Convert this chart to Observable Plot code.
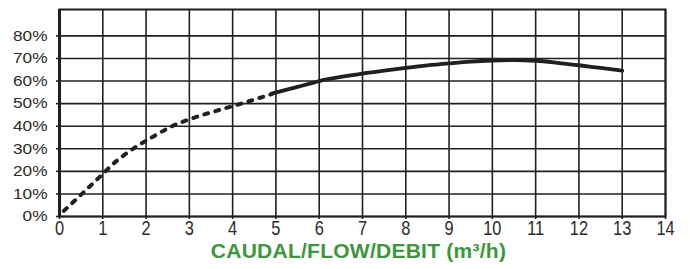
<!DOCTYPE html>
<html>
<head>
<meta charset="utf-8">
<script src="https://cdn.jsdelivr.net/npm/d3@7"></script>
<script src="https://cdn.jsdelivr.net/npm/@observablehq/plot@0.6"></script>
<style>
  body { margin: 0; background: #fff; }
  #chart svg { display: block; }
</style>
</head>
<body>
<div id="chart"></div>
<script>
// Tick values
const xTicks = [0, 1, 2, 3, 4, 5, 6, 7, 8, 9, 10, 11, 12, 13, 14];
const yTicks = [0, 10, 20, 30, 40, 50, 60, 70, 80];

// Efficiency curve, dotted (low-flow) part
const dottedFlow = [0.1, 0.5, 0.9, 1.3, 1.7, 2.2, 2.6, 3.1, 3.6, 4.2, 4.7, 4.9];
const dottedEff  = [2.5, 9.7, 17, 24.3, 30, 35.8, 40, 43.7, 46.7, 50, 53, 54.2];

// Efficiency curve, solid (working range) part
const solidFlow = [4.9, 5.5, 6, 6.5, 7, 7.5, 8, 8.5, 9, 9.5, 10, 10.5, 11, 11.5, 12, 12.5, 13];
const solidEff  = [54.4, 57.4, 60, 61.8, 63.3, 64.6, 65.8, 66.9, 67.8, 68.6, 69.1, 69.3, 69, 68.1, 67, 65.8, 64.6];

const axisTitle = "CAUDAL/FLOW/DEBIT (m³/h)";

const ink = "#231f20";
const green = "#3d963d";

const dotted = dottedFlow.map((x, i) => ({x, y: dottedEff[i]}));
const solid = solidFlow.map((x, i) => ({x, y: solidEff[i]}));

const chart = Plot.plot({
  width: 690,
  height: 269,
  marginLeft: 59,
  marginRight: 25,
  marginTop: 9,
  marginBottom: 53,
  x: {domain: [0, 14]},
  y: {domain: [0, 91.7]},
  style: {background: "#fff", fontFamily: "'Liberation Sans', Arial, sans-serif", color: ink},
  marks: [
    Plot.gridX(xTicks, {stroke: ink, strokeOpacity: 1, strokeWidth: 1.6}),
    Plot.gridY(yTicks, {stroke: ink, strokeOpacity: 1, strokeWidth: 1.6}),
    Plot.frame({stroke: ink, strokeWidth: 2}),
    Plot.ruleX([0], {stroke: ink, strokeWidth: 3}),
    Plot.axisX(xTicks, {tickSize: 3, tickPadding: 1.5, fontSize: 20, label: null, stroke: ink, strokeWidth: 1.6, fill: "#2b2b2b"}),
    Plot.axisY(yTicks, {tickSize: 3, tickPadding: 9, fontSize: 15, tickFormat: d => d + "%", label: null, stroke: ink, strokeWidth: 1.6, fill: "#2b2b2b"}),
    Plot.line(dotted, {x: "x", y: "y", curve: "monotone-x", stroke: ink, strokeWidth: 4, strokeDasharray: "4,7.5"}),
    Plot.line(solid, {x: "x", y: "y", curve: "monotone-x", stroke: ink, strokeWidth: 3.8}),
    Plot.text([axisTitle], {text: d => d, frameAnchor: "bottom", dx: -4, dy: 41, fontSize: 21, fontWeight: "bold", fill: green})
  ]
});

document.getElementById("chart").append(chart);

// Title letter spacing
d3.select(chart).selectAll("text")
  .filter(function() { return this.textContent === axisTitle; })
  .style("letter-spacing", "0.25px");

// Horizontal stretch of tick labels (condensed x labels, wider y labels), about each label's centre / right edge
function stretch(selector, s, anchorRight) {
  d3.select(chart).selectAll(selector).each(function() {
    const b = this.getBBox();
    const cx = anchorRight ? b.x + b.width : b.x + b.width / 2;
    const t = this.getAttribute("transform") || "";
    this.setAttribute("transform", `${t} translate(${cx},0) scale(${s},1) translate(${-cx},0)`);
  });
}
stretch('g[aria-label="x-axis tick label"] text', 0.82, false);
stretch('g[aria-label="y-axis tick label"] text', 1.15, true);
</script>
</body>
</html>
